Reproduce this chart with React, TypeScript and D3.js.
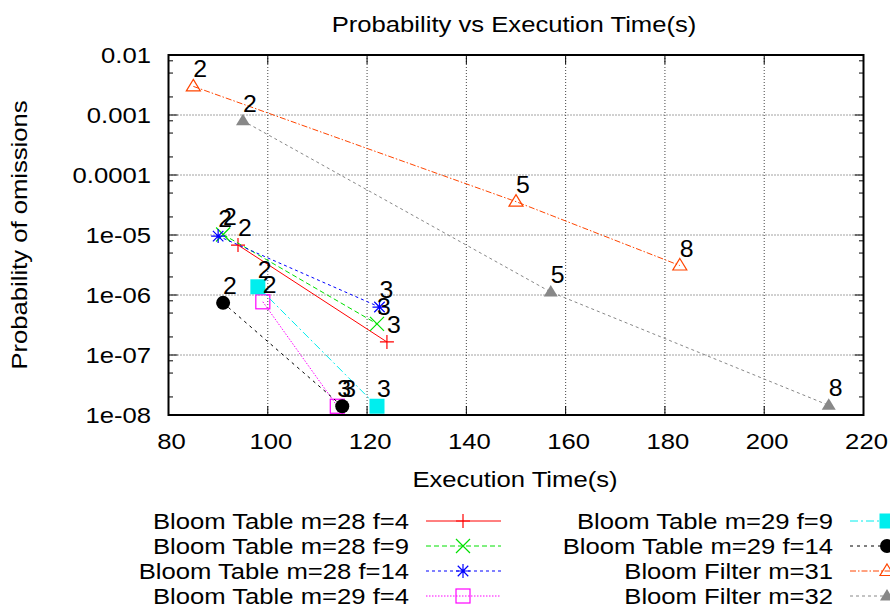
import React from 'react';
import * as d3 from 'd3';

const W = 890;
const H = 612;
const FONT = '"Liberation Sans", Arial, Helvetica, sans-serif';
const SX = 1.14;
const FS = 22.5;

// ---- data ----
const xTicks = [80, 100, 120, 140, 160, 180, 200, 220];
const yTicks = [1e-8, 1e-7, 1e-6, 1e-5, 1e-4, 1e-3, 1e-2];
const yTickLabels = ['1e-08', '1e-07', '1e-06', '1e-05', '0.0001', '0.001', '0.01'];

const seriesNames = [
  'Bloom Table m=28 f=4',
  'Bloom Table m=28 f=9',
  'Bloom Table m=28 f=14',
  'Bloom Table m=29 f=4',
  'Bloom Table m=29 f=9',
  'Bloom Table m=29 f=14',
  'Bloom Filter m=31',
  'Bloom Filter m=32',
];

const bt28f4X = [94, 124];
const bt28f4Y = [6.8e-6, 1.65e-7];
const bt28f9X = [91, 122];
const bt28f9Y = [1.02e-5, 3.3e-7];
const bt28f14X = [90, 122.5];
const bt28f14Y = [9.6e-6, 6.3e-7];
const bt29f4X = [99, 114];
const bt29f4Y = [7.7e-7, 1.4e-8];
const bt29f9X = [98, 122];
const bt29f9Y = [1.37e-6, 1.4e-8];
const bt29f14X = [91, 115];
const bt29f14Y = [7.4e-7, 1.4e-8];
const bf31X = [85, 150, 183];
const bf31Y = [3.0e-3, 3.6e-5, 3.1e-6];
const bf32X = [95, 157, 213];
const bf32Y = [8.0e-4, 1.12e-6, 1.45e-8];

const btLabels = ['2', '3'];
const bfLabels = ['2', '5', '8'];

const seriesX = [bt28f4X, bt28f9X, bt28f14X, bt29f4X, bt29f9X, bt29f14X, bf31X, bf32X];
const seriesY = [bt28f4Y, bt28f9Y, bt28f14Y, bt29f4Y, bt29f9Y, bt29f14Y, bf31Y, bf32Y];
const seriesLabels = [btLabels, btLabels, btLabels, btLabels, btLabels, btLabels, bfLabels, bfLabels];

// ---- styles ----
const colors = ['#ff0000', '#00e000', '#0000ff', '#ff00ff', '#00eeee', '#000000', '#ff4500', '#888888'];
const dashes = ['', '5,3', '3,3', '1.5,1.5', '8,3,2,3', '3,4', '6,2,1.5,2', '3,3'];
const markers = ['plus', 'cross', 'star', 'openSquare', 'filledSquare', 'filledCircle', 'openTriangle', 'filledTriangle'];

const PL = 168.5, PR = 863.5, PT = 55, PB = 415;

function Marker({ type, x, y, color }: { type: string; x: number; y: number; color: string }) {
  const s = 7;
  const sw = 1.2;
  switch (type) {
    case 'plus':
      return <path d={`M${x - s},${y}H${x + s}M${x},${y - s}V${y + s}`} stroke={color} strokeWidth={sw} fill="none" />;
    case 'cross':
      return <path d={`M${x - s},${y - s}L${x + s},${y + s}M${x - s},${y + s}L${x + s},${y - s}`} stroke={color} strokeWidth={sw} fill="none" />;
    case 'star':
      return (
        <path
          d={`M${x - s},${y}H${x + s}M${x},${y - s}V${y + s}M${x - s * 0.75},${y - s * 0.75}L${x + s * 0.75},${y + s * 0.75}M${x - s * 0.75},${y + s * 0.75}L${x + s * 0.75},${y - s * 0.75}`}
          stroke={color}
          strokeWidth={sw}
          fill="none"
        />
      );
    case 'openSquare':
      return <rect x={x - 7} y={y - 7} width={14} height={14} stroke={color} strokeWidth={sw} fill="none" />;
    case 'filledSquare':
      return <rect x={x - 7.5} y={y - 7.5} width={15} height={15} fill={color} />;
    case 'filledCircle':
      return <circle cx={x} cy={y} r={7} fill={color} />;
    case 'openTriangle':
      return <path d={`M${x},${y - 7}L${x + 7},${y + 4.5}L${x - 7},${y + 4.5}Z`} stroke={color} strokeWidth={sw} fill="none" />;
    case 'filledTriangle':
      return <path d={`M${x},${y - 7}L${x + 7},${y + 4.5}L${x - 7},${y + 4.5}Z`} fill={color} />;
    default:
      return null;
  }
}

function T({ x, y, anchor = 'start', size = FS, rotate = 0, sx = SX, children }: any) {
  const tr = `translate(${x},${y})${rotate ? ` rotate(${rotate})` : ''} scale(${sx},1)`;
  return (
    <text transform={tr} textAnchor={anchor} fontSize={size} fontFamily={FONT} fill="#000">
      {children}
    </text>
  );
}

export default function App() {
  const x = d3.scaleLinear().domain([80, 220]).range([PL, PR]);
  const y = d3.scaleLog().domain([1e-8, 1e-2]).range([PB, PT]);

  const minorY: number[] = [];
  for (let e = -8; e < -2; e++) {
    [2, 5, 8].forEach((m) => minorY.push(m * Math.pow(10, e)));
  }

  const line = d3
    .line<[number, number]>()
    .x((d) => x(d[0]))
    .y((d) => y(d[1]));

  return (
    <svg width={W} height={H} style={{ position: 'absolute', left: 0, top: 0, background: '#fff' }}>
      <rect x={0} y={0} width={W} height={H} fill="#fff" />
      {/* grid */}
      {xTicks.slice(1, -1).map((t) => (
        <line key={'gx' + t} x1={x(t)} x2={x(t)} y1={PT} y2={PB} stroke="#444" strokeWidth={1} strokeDasharray="1,2" />
      ))}
      {yTicks.slice(1, -1).map((t) => (
        <line key={'gy' + t} x1={PL} x2={PR} y1={y(t)} y2={y(t)} stroke="#444" strokeWidth={1} strokeDasharray="1,2" />
      ))}
      {/* ticks */}
      {xTicks.map((t) => (
        <g key={'tx' + t}>
          <line x1={x(t)} x2={x(t)} y1={PB} y2={PB - 9} stroke="#000" strokeWidth={1} />
          <line x1={x(t)} x2={x(t)} y1={PT} y2={PT + 9} stroke="#000" strokeWidth={1} />
        </g>
      ))}
      {yTicks.map((t) => (
        <g key={'ty' + t}>
          <line x1={PL} x2={PL + 9} y1={y(t)} y2={y(t)} stroke="#000" strokeWidth={1} />
          <line x1={PR} x2={PR - 9} y1={y(t)} y2={y(t)} stroke="#000" strokeWidth={1} />
        </g>
      ))}
      {minorY.map((t, i) => (
        <g key={'my' + i}>
          <line x1={PL} x2={PL + 4.5} y1={y(t)} y2={y(t)} stroke="#000" strokeWidth={1} />
          <line x1={PR} x2={PR - 4.5} y1={y(t)} y2={y(t)} stroke="#000" strokeWidth={1} />
        </g>
      ))}
      {/* tick labels */}
      {xTicks.map((t) => (
        <T key={'lx' + t} x={x(t) + 3} y={449} anchor="middle">
          {String(t)}
        </T>
      ))}
      {yTicks.map((t, i) => (
        <T key={'ly' + t} x={151} y={y(t) + 8} anchor="end">
          {yTickLabels[i]}
        </T>
      ))}
      {/* series */}
      {seriesX.map((xs, si) => {
        const pts = xs.map((v, j) => [v, seriesY[si][j]] as [number, number]);
        return (
          <g key={'s' + si}>
            <path d={line(pts) || ''} fill="none" stroke={colors[si]} strokeWidth={1} strokeDasharray={dashes[si] || undefined} />
            {pts.map((p, j) => (
              <Marker key={j} type={markers[si]} x={x(p[0])} y={y(p[1])} color={colors[si]} />
            ))}
          </g>
        );
      })}
      {seriesX.map((xs, si) =>
        xs.map((v, j) => (
          <T key={'pl' + si + '_' + j} x={x(v)} y={y(seriesY[si][j]) - 9} size={23} sx={1.08}>
            {seriesLabels[si][j]}
          </T>
        ))
      )}
      {/* border */}
      <rect x={PL} y={PT} width={PR - PL} height={PB - PT} fill="none" stroke="#000" strokeWidth={2} />
      {/* titles */}
      <T x={514} y={31.5} anchor="middle">
        Probability vs Execution Time(s)
      </T>
      <T x={515} y={487} anchor="middle">
        Execution Time(s)
      </T>
      <T x={27} y={235} anchor="middle" rotate={-90}>
        Probability of omissions
      </T>
      {/* legend */}
      {seriesNames.map((name, i) => {
        const col = i < 4 ? 0 : 1;
        const row = i % 4;
        const ly = 521 + row * 25;
        const textRight = col === 0 ? 409 : 833;
        const lx1 = col === 0 ? 426 : 850;
        const lx2 = lx1 + 75;
        const mx = col === 0 ? 463 : 887;
        return (
          <g key={'lg' + i}>
            <T x={textRight} y={ly + 7.5} anchor="end">
              {name}
            </T>
            <line x1={lx1} x2={lx2} y1={ly} y2={ly} stroke={colors[i]} strokeWidth={1} strokeDasharray={dashes[i] || undefined} />
            <Marker type={markers[i]} x={mx} y={ly} color={colors[i]} />
          </g>
        );
      })}
    </svg>
  );
}
